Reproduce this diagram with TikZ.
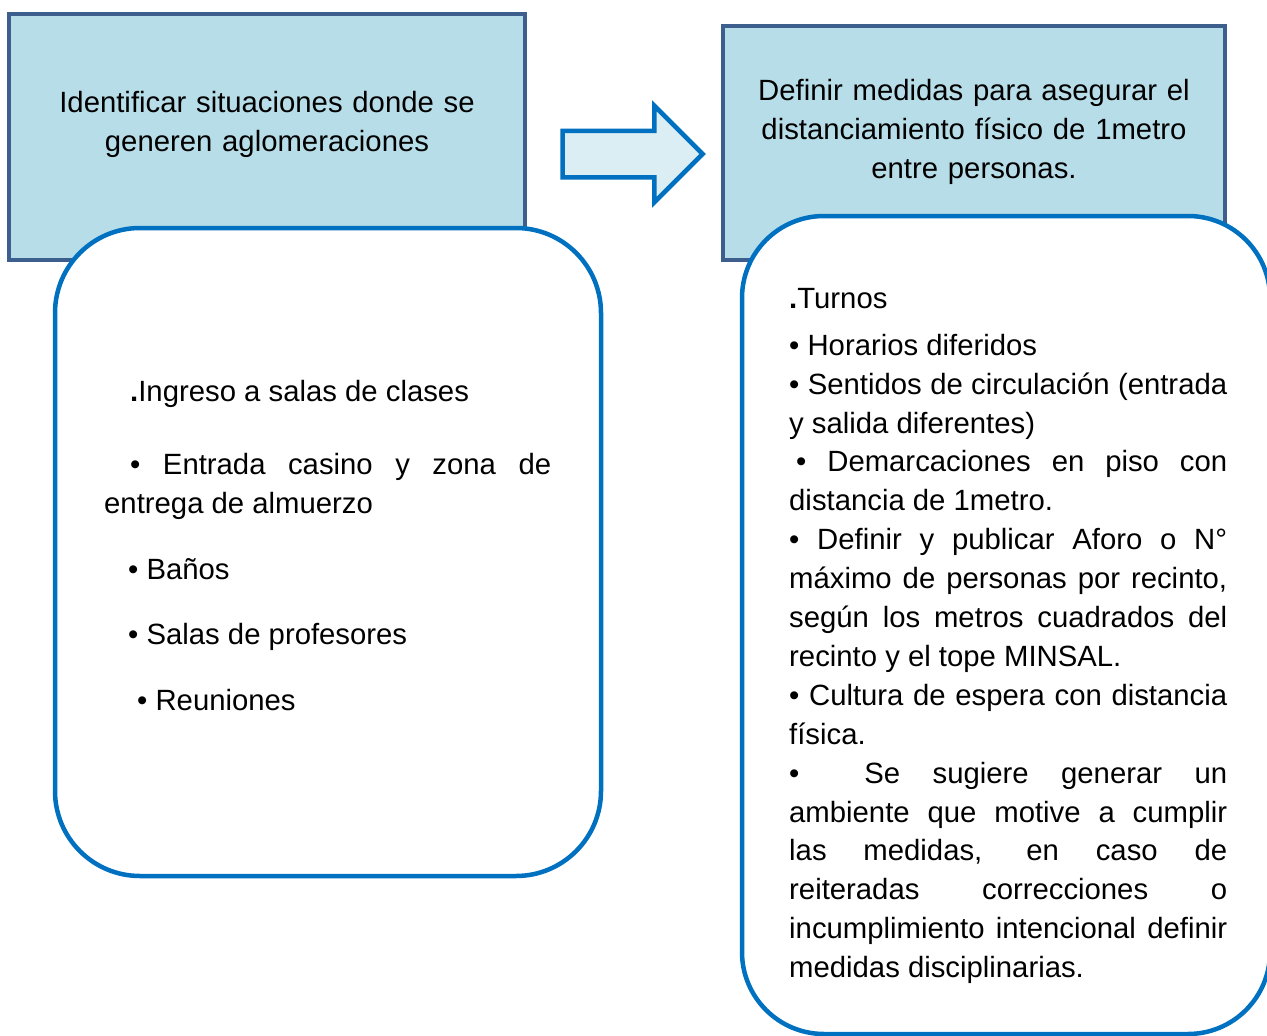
\documentclass[tikz,border=0pt]{standalone}
\usepackage{fontspec}
\setmainfont{Liberation Sans}
\usetikzlibrary{shapes.arrows}
\definecolor{cajaazul}{HTML}{B7DDE8}
\definecolor{bordecaja}{HTML}{3C5F8E}
\definecolor{bordeglobo}{HTML}{0070C0}
\definecolor{flechaazul}{HTML}{DAEEF3}
\setlength{\parindent}{0pt}
\tolerance=10000
\hbadness=10000
\hyphenpenalty=10000

\begin{document}
\begin{tikzpicture}[x=1pt, y=-1pt,
  caja/.style={draw=bordecaja, fill=cajaazul, line width=4pt, inner sep=0pt},
  globo/.style={draw=bordeglobo, fill=white, line width=4.5pt, inner sep=0pt},
  flecha/.style={single arrow, draw=bordeglobo, fill=flechaazul, line width=4.5pt,
    minimum height=140pt, inner xsep=0pt, inner ysep=21pt, single arrow head extend=25pt},
  titulo/.style={inner sep=0pt, anchor=north, text width=480pt, align=center,
    font=\fontsize{29.3pt}{39pt}\selectfont},
  lista/.style={inner sep=0pt, anchor=north west, align=justify}]
\useasboundingbox (0,0) rectangle (1267,1036);

  % cajas de arriba
  \node[caja, minimum width=516pt, minimum height=246pt] (ident) at (267,137) {};
  \node[caja, minimum width=502pt, minimum height=234pt] (medidas) at (974,143) {};

  % globos con las listas
  \node[globo, rounded corners=85pt, minimum width=546pt, minimum height=648pt] (lugares) at (328,552) {};
  \node[globo, rounded corners=82pt, minimum width=528pt, minimum height=818pt] (acciones) at (1006,625) {};

  \node[flecha] (paso) at (621,154) {};

  \node[titulo] (tident) at (267,91) {Identificar situaciones donde se\\ generen aglomeraciones};
  \node[titulo] (tmedidas) at (974,79) {Definir medidas para asegurar el\\ distanciamiento físico de 1metro\\ entre personas.};

  \node[lista, text width=447pt, font=\fontsize{29.3pt}{39pt}\selectfont] (tlugares) at (104,380) {%
    \hspace*{26pt}{\bfseries .}Ingreso a salas de clases\par\vspace{34pt}
    \hspace*{26pt}• Entrada casino y zona de\linebreak entrega de almuerzo\par\vspace{27pt}
    \hspace*{24pt}• Baños\par\vspace{26pt}
    \hspace*{24pt}• Salas de profesores\par\vspace{27pt}
    \hspace*{33pt}• Reuniones\par};

  \node[lista, text width=438pt, font=\fontsize{29.3pt}{38.9pt}\selectfont] (tacciones) at (789,288) {%
    {\bfseries .}Turnos\par\vspace{8pt}
    • Horarios diferidos\par
    • Sentidos de circulación (entrada\linebreak y salida diferentes)\par
    \hspace*{7pt}• Demarcaciones en piso con\linebreak distancia de 1metro.\par
    • Definir y publicar Aforo o N°\linebreak máximo de personas por recinto,\linebreak
    según los metros cuadrados del\linebreak recinto y el tope MINSAL.\par
    • Cultura de espera con distancia\linebreak física.\par
    •\ \ Se sugiere generar un\linebreak ambiente que motive a cumplir\linebreak
    las medidas, en caso de\linebreak reiteradas correcciones o\linebreak
    incumplimiento intencional definir\linebreak medidas disciplinarias.\par};
\end{tikzpicture}
\end{document}
